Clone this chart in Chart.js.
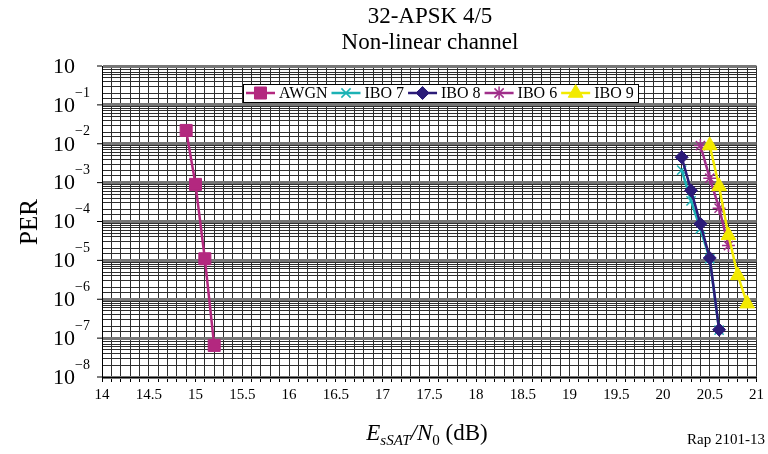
<!DOCTYPE html>
<html>
<head>
<meta charset="utf-8">
<script src="https://cdn.jsdelivr.net/npm/chart.js@4/dist/chart.umd.min.js"></script>
<style>
  body { margin: 0; background: #fff; }
  canvas { display: block; }
</style>
</head>
<body>
<canvas id="per" width="768" height="454"></canvas>
<script>
// PER vs Es/N0 curves, 32-APSK 4/5 on a non-linear channel
const titleLines = ['32-APSK 4/5', 'Non-linear channel'];
const seriesNames = ['AWGN', 'IBO 7', 'IBO 8', 'IBO 6', 'IBO 9'];

const esnoAwgn = [14.9, 15.0, 15.1, 15.2];
const perAwgn = [2.2e-2, 9e-4, 1.1e-5, 6.5e-8];

const esnoIbo7 = [20.2, 20.3, 20.4, 20.5, 20.6];
const perIbo7 = [2.1e-3, 3.4e-4, 6.5e-5, 1.1e-5, 1.6e-7];

const esnoIbo8 = [20.2, 20.3, 20.4, 20.5, 20.6];
const perIbo8 = [4.5e-3, 6.3e-4, 8.7e-5, 1.15e-5, 1.65e-7];

const esnoIbo6 = [20.4, 20.5, 20.6, 20.7];
const perIbo6 = [9e-3, 1.3e-3, 2.2e-4, 2.4e-5];

const esnoIbo9 = [20.5, 20.6, 20.7, 20.8, 20.9];
const perIbo9 = [9e-3, 8e-4, 4.4e-5, 4.1e-6, 7.7e-7];

const xMin = 14, xMax = 21;
const decades = [1, 1e-1, 1e-2, 1e-3, 1e-4, 1e-5, 1e-6, 1e-7, 1e-8];
const decadeExps = ['', '\u22121', '\u22122', '\u22123', '\u22124', '\u22125', '\u22126', '\u22127', '\u22128'];

const SERIF = '"Liberation Serif", "Times New Roman", serif';

function pts(xs, ys) {
    return xs.map((x, i) => ({ x: x, y: ys[i] }));
}

function series(label, xs, ys, color, style, radius, order) {
    return {
        label: label,
        data: pts(xs, ys),
        borderColor: color,
        backgroundColor: color,
        borderWidth: 2.5,
        pointStyle: style,
        pointRadius: radius,
        pointHoverRadius: radius,
        pointBorderWidth: style === 'crossRot' || style === 'star' ? 1.5 : 1,
        pointBorderColor: color,
        pointBackgroundColor: color,
        tension: 0,
        fill: false,
        order: order
    };
}

const datasets = [
    series(seriesNames[0], esnoAwgn, perAwgn, '#b3287f', 'rect', 8.5, 0),
    series(seriesNames[1], esnoIbo7, perIbo7, '#1cb2b5', 'crossRot', 6.5, 4),
    series(seriesNames[2], esnoIbo8, perIbo8, '#2b1b78', 'rectRot', 6.5, 1),
    series(seriesNames[3], esnoIbo6, perIbo6, '#a02f8a', 'star', 6.5, 3),
    series(seriesNames[4], esnoIbo9, perIbo9, '#f2ea00', 'triangle', 8.5, 2)
];

function isDecade(v) {
    const l = Math.log10(v);
    return Math.abs(l - Math.round(l)) < 1e-6;
}

function drawMarker(ctx, ds, x, y) {
    ctx.save();
    ctx.fillStyle = ds.pointBackgroundColor;
    ctx.strokeStyle = ds.pointBorderColor;
    ctx.lineWidth = ds.pointBorderWidth;
    if (Chart.helpers && Chart.helpers.drawPoint) {
        Chart.helpers.drawPoint(ctx, {
            pointStyle: ds.pointStyle,
            radius: ds.pointRadius,
            rotation: 0,
            borderWidth: ds.pointBorderWidth
        }, x, y);
    } else {
        ctx.fillRect(x - 5, y - 5, 10, 10);
    }
    ctx.restore();
}

const decorations = {
    id: 'decorations',
    afterDraw(chart) {
        const ctx = chart.ctx;
        const area = chart.chartArea;
        const yScale = chart.scales.y;
        ctx.save();
        ctx.fillStyle = '#000';
        ctx.strokeStyle = '#000';

        // title
        ctx.textAlign = 'center';
        ctx.textBaseline = 'middle';
        ctx.font = '23px ' + SERIF;
        ctx.fillText(titleLines[0], 430, 17);
        ctx.fillText(titleLines[1], 430, 43);

        // y decade labels with exponents
        decades.forEach((v, i) => {
            const y = yScale.getPixelForValue(v);
            ctx.lineWidth = 1;
            ctx.beginPath();
            ctx.moveTo(area.left - 5, y);
            ctx.lineTo(area.left, y);
            ctx.stroke();
            ctx.font = '22px ' + SERIF;
            ctx.textAlign = 'right';
            ctx.textBaseline = 'middle';
            ctx.fillText('10', 75, y + 1);
            if (decadeExps[i]) {
                ctx.font = '14px ' + SERIF;
                ctx.textAlign = 'left';
                ctx.fillText(decadeExps[i], 75, y - 12);
            }
        });

        // y axis title
        ctx.save();
        ctx.translate(30, 222);
        ctx.rotate(-Math.PI / 2);
        ctx.font = '25px ' + SERIF;
        ctx.textAlign = 'center';
        ctx.textBaseline = 'middle';
        ctx.fillText('PER', 0, 0);
        ctx.restore();

        // x axis title: E_sSAT / N_0 (dB)
        const parts = [
            { t: 'E', f: 'italic 23px ', dy: 0 },
            { t: 'sSAT', f: 'italic 15px ', dy: 5 },
            { t: '/N', f: 'italic 23px ', dy: 0 },
            { t: '0', f: '15px ', dy: 5 },
            { t: ' (dB)', f: '23px ', dy: 0 }
        ];
        ctx.textAlign = 'left';
        ctx.textBaseline = 'alphabetic';
        let total = 0;
        parts.forEach(p => {
            ctx.font = p.f + SERIF;
            p.w = ctx.measureText(p.t).width;
            total += p.w;
        });
        let px = 427 - total / 2;
        parts.forEach(p => {
            ctx.font = p.f + SERIF;
            ctx.fillText(p.t, px, 440 + p.dy);
            px += p.w;
        });

        // figure reference
        ctx.font = '15px ' + SERIF;
        ctx.textAlign = 'right';
        ctx.textBaseline = 'middle';
        ctx.fillText('Rap 2101-13', 765, 440);

        // legend box
        const lx = 243, ly = 84, lw = 395, lh = 18;
        const cy = ly + lh / 2;
        ctx.fillStyle = '#fff';
        ctx.fillRect(lx, ly, lw, lh);
        ctx.lineWidth = 1;
        ctx.strokeStyle = '#000';
        ctx.strokeRect(lx + 0.5, ly + 0.5, lw, lh);
        ctx.font = '16px ' + SERIF;
        ctx.textAlign = 'left';
        ctx.textBaseline = 'middle';
        let x = lx + 3;
        chart.data.datasets.forEach(ds => {
            ctx.strokeStyle = ds.borderColor;
            ctx.lineWidth = ds.borderWidth;
            ctx.beginPath();
            ctx.moveTo(x, cy);
            ctx.lineTo(x + 29, cy);
            ctx.stroke();
            drawMarker(ctx, ds, x + 14.5, cy);
            ctx.fillStyle = '#000';
            ctx.fillText(ds.label, x + 33, cy + 1);
            x += 33 + ctx.measureText(ds.label).width + 4;
        });
        ctx.restore();
    }
};

new Chart(document.getElementById('per'), {
    type: 'line',
    data: { datasets: datasets },
    options: {
        responsive: false,
        animation: false,
        devicePixelRatio: 1,
        layout: { padding: { left: 0, top: 66, right: 10, bottom: 0 } },
        plugins: {
            legend: { display: false },
            title: { display: false },
            tooltip: { enabled: false }
        },
        scales: {
            x: {
                type: 'linear',
                min: xMin,
                max: xMax,
                afterFit(scale) { scale.height = 77; },
                ticks: {
                    stepSize: 0.1,
                    autoSkip: false,
                    maxTicksLimit: 200,
                    maxRotation: 0,
                    padding: 4,
                    color: '#000',
                    font: { family: SERIF, size: 15 },
                    callback(v) {
                        const h = v * 2;
                        if (Math.abs(h - Math.round(h)) < 1e-6) return String(Math.round(h) / 2);
                        return '';
                    }
                },
                grid: {
                    color: '#2e2e2e',
                    lineWidth: 1,
                    tickLength: 5,
                    tickColor: '#000'
                },
                border: { display: true, color: '#000', width: 1 }
            },
            y: {
                type: 'logarithmic',
                min: 1e-8,
                max: 1,
                afterFit(scale) { scale.width = 102; },
                ticks: { display: false, autoSkip: false },
                grid: {
                    drawTicks: false,
                    color: ctx => (ctx.tick && isDecade(ctx.tick.value)) ? '#767676' : '#2e2e2e',
                    lineWidth: ctx => (ctx.tick && isDecade(ctx.tick.value)) ? 3 : 1
                },
                border: { display: true, color: '#000', width: 1 }
            }
        }
    },
    plugins: [decorations]
});
</script>
</body>
</html>
